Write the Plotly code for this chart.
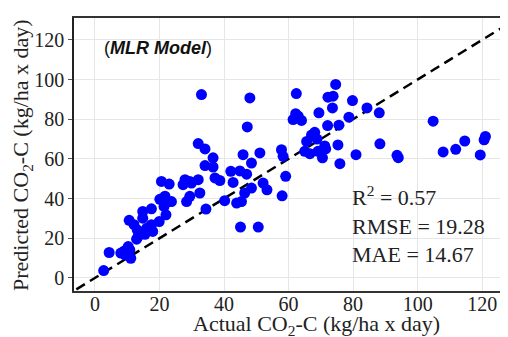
import plotly.graph_objects as go

# Actual vs predicted CO2-C (kg/ha x day)
actual = [
    2.7, 4.4, 8.0, 9.1, 9.3, 10.3, 11.1, 10.8, 10.6, 12.1, 13.1, 13.4, 12.9, 14.8, 14.8, 15.5, 17.5, 17.5, 17.9, 19.9, 16.0,
    20.6, 23.0, 20.1, 21.7, 22.4, 23.7, 21.4, 22.0,
    27.3, 27.9, 29.4, 32.0, 28.4, 29.4, 32.5, 34.4, 32.0, 34.1, 36.6, 34.1, 36.6, 37.2, 38.7, 33.0, 29.9,
    40.2, 42.1, 42.8, 45.9, 44.9, 47.0, 48.5, 51.1, 43.9, 45.4, 46.4, 48.5, 45.1, 50.6, 52.1, 53.3, 47.2, 48.0,
    57.8, 58.3, 59.1, 58.0, 62.4, 61.4, 63.0, 64.0, 62.2, 69.4, 65.6, 67.1, 68.1, 68.8, 65.0, 66.6, 69.1, 70.5,
    74.6, 72.2, 73.8, 73.6, 79.8, 84.3, 88.1, 78.7, 75.6, 72.1, 71.2, 71.5, 75.3, 80.9, 75.9, 88.3, 93.6, 94.0,
    104.8, 107.9, 111.8, 114.6, 121.0, 120.6, 119.4,
]
predicted = [
    3.7, 12.8, 12.5, 13.6, 11.6, 15.8, 9.9, 14.1, 29.0, 26.8, 24.2, 21.0, 19.5, 33.5, 30.1, 22.0, 34.8, 26.8, 23.4, 28.4, 25.0,
    48.6, 47.3, 39.6, 41.2, 38.3, 38.5, 36.0, 31.8,
    47.0, 49.5, 48.6, 49.5, 38.5, 41.1, 42.8, 34.7, 67.7, 65.0, 60.5, 56.6, 55.9, 50.4, 49.1, 92.4, 47.8,
    38.9, 53.7, 48.1, 62.1, 53.9, 52.3, 57.9, 63.0, 37.7, 38.5, 42.8, 45.3, 25.6, 25.6, 47.8, 44.4, 76.1, 90.7,
    64.6, 61.3, 51.2, 41.4, 92.9, 79.8, 81.5, 79.4, 82.8, 83.2, 68.8, 72.0, 73.4, 70.0, 63.8, 62.6, 63.8, 60.5,
    97.5, 91.1, 91.6, 85.7, 89.4, 85.7, 83.2, 81.0, 77.0, 76.8, 66.5, 65.0, 67.0, 62.1, 57.6, 67.6, 61.8, 60.6,
    79.0, 63.5, 64.8, 69.0, 71.3, 69.6, 62.0,
]
identity_line = [-10, 130]
tick_vals = [0, 20, 40, 60, 80, 100, 120]
x_range = [-6.5, 128]
y_range = [-6.6, 131]

serif = "Liberation Serif"

fig = go.Figure()
fig.add_trace(go.Scatter(
    x=identity_line, y=identity_line, mode="lines",
    line=dict(color="black", width=2.5, dash="10px,6px"),
    hoverinfo="skip", showlegend=False,
))
fig.add_trace(go.Scatter(
    x=actual, y=predicted, mode="markers",
    marker=dict(color="#0000ff", size=11, line=dict(width=0)),
    showlegend=False,
))

# white panel behind the statistics text (hides gridlines)
fig.add_shape(type="rect", xref="paper", yref="paper",
              x0=(337 - 74) / 434, x1=1.0, y0=(291 - 275) / 273, y1=(291 - 175) / 273,
              fillcolor="white", line=dict(width=0), layer="between")

fig.add_annotation(
    x=79, y=26.8, xref="x", yref="y", xanchor="left", yanchor="middle", align="left",
    text="R<sup>2</sup> = 0.57<br>RMSE = 19.28<br>MAE = 14.67",
    showarrow=False, font=dict(family=serif, size=22, color="#222"),
)
fig.add_annotation(
    x=19.5, y=116, xref="x", yref="y", xanchor="center", yanchor="middle",
    text="(<b><i>MLR Model</i></b>)",
    showarrow=False, font=dict(family="Liberation Sans", size=18, color="#111"),
)
# axis titles
fig.add_annotation(
    x=(316 - 74) / 434, y=(291 - 325) / 273, xref="paper", yref="paper",
    xanchor="center", yanchor="middle", showarrow=False,
    text="Actual CO<sub>2</sub>-C (kg/ha x day)",
    font=dict(family=serif, size=22, color="#222"),
)
fig.add_annotation(
    x=(22 - 74) / 434, y=(291 - 155) / 273, xref="paper", yref="paper",
    xanchor="center", yanchor="middle", showarrow=False, textangle=-90,
    text="Predicted CO<sub>2</sub>-C (kg/ha x day)",
    font=dict(family=serif, size=22, color="#222"),
)

# the page body has an 8px margin, so the figure is sized to end at the window edge
fig.update_layout(
    width=500, height=329,
    margin=dict(l=66, r=0, t=10, b=46, autoexpand=False),
    paper_bgcolor="white", plot_bgcolor="white",
    font=dict(family=serif, color="#222"),
)
fig.update_xaxes(
    range=x_range, tickvals=tick_vals, showgrid=True, gridcolor="#e6e6e6", gridwidth=1,
    zeroline=False, showline=True, linecolor="#333", linewidth=1.5, mirror=True,
    automargin=False, ticks="", ticklen=0, ticklabelstandoff=-6,
    tickfont=dict(family=serif, size=20, color="#222"),
)
fig.update_yaxes(
    range=y_range, tickvals=tick_vals, showgrid=True, gridcolor="#e6e6e6", gridwidth=1,
    zeroline=False, showline=True, linecolor="#222", linewidth=1.5, mirror=False,
    automargin=False,
    ticks="outside", ticklen=4, tickcolor="#555",
    tickfont=dict(family=serif, size=20, color="#222"),
)

fig.write_html("out.html")
